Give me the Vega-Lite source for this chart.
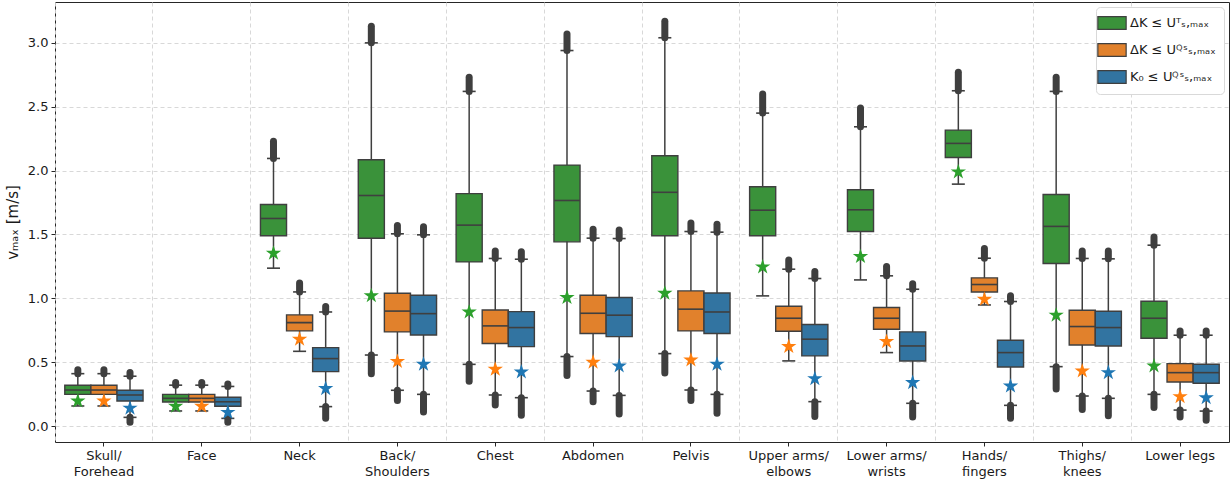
{
  "$schema": "https://vega.github.io/schema/vega-lite/v6.json",
  "width": 1174,
  "height": 440,
  "autosize": {"type": "none"},
  "padding": {"left": 55, "top": 2, "right": 1, "bottom": 38},
  "background": "white",
  "config": {
    "font": "DejaVu Sans",
    "view": {"stroke": "#262626", "strokeWidth": 1},
    "axis": {"labelFont": "DejaVu Sans", "titleFont": "DejaVu Sans", "labelColor": "#1a1a1a", "titleColor": "#1a1a1a", "tickColor": "#262626", "domain": false}
  },
  "data": {"values": [
    {"part": "Skull/Forehead", "s": "T", "lo": 0.157, "q1": 0.248, "med": 0.282, "q3": 0.319, "hi": 0.41, "omax": 0.44, "omin": null, "star": 0.196},
    {"part": "Skull/Forehead", "s": "QS", "lo": 0.157, "q1": 0.248, "med": 0.282, "q3": 0.319, "hi": 0.41, "omax": 0.44, "omin": null, "star": 0.196},
    {"part": "Skull/Forehead", "s": "K0", "lo": 0.068, "q1": 0.196, "med": 0.243, "q3": 0.28, "hi": 0.39, "omax": 0.42, "omin": 0.03, "star": 0.14},
    {"part": "Face", "s": "T", "lo": 0.118, "q1": 0.188, "med": 0.217, "q3": 0.248, "hi": 0.32, "omax": 0.34, "omin": null, "star": 0.155},
    {"part": "Face", "s": "QS", "lo": 0.118, "q1": 0.188, "med": 0.217, "q3": 0.248, "hi": 0.32, "omax": 0.34, "omin": null, "star": 0.155},
    {"part": "Face", "s": "K0", "lo": 0.06, "q1": 0.155, "med": 0.19, "q3": 0.225, "hi": 0.31, "omax": 0.33, "omin": 0.03, "star": 0.107},
    {"part": "Neck", "s": "T", "lo": 1.236, "q1": 1.49, "med": 1.625, "q3": 1.735, "hi": 2.095, "omax": 2.23, "omin": null, "star": 1.353},
    {"part": "Neck", "s": "QS", "lo": 0.585, "q1": 0.745, "med": 0.81, "q3": 0.87, "hi": 1.05, "omax": 1.12, "omin": null, "star": 0.68},
    {"part": "Neck", "s": "K0", "lo": 0.152, "q1": 0.426, "med": 0.528, "q3": 0.614, "hi": 0.893, "omax": 0.935, "omin": 0.06, "star": 0.293},
    {"part": "Back/Shoulders", "s": "T", "lo": 0.556, "q1": 1.47, "med": 1.805, "q3": 2.085, "hi": 3.0, "omax": 3.13, "omin": 0.41, "star": 1.02},
    {"part": "Back/Shoulders", "s": "QS", "lo": 0.28, "q1": 0.737, "med": 0.9, "q3": 1.04, "hi": 1.505, "omax": 1.57, "omin": 0.2, "star": 0.505},
    {"part": "Back/Shoulders", "s": "K0", "lo": 0.248, "q1": 0.713, "med": 0.88, "q3": 1.024, "hi": 1.497, "omax": 1.56, "omin": 0.11, "star": 0.483},
    {"part": "Chest", "s": "T", "lo": 0.483, "q1": 1.285, "med": 1.573, "q3": 1.82, "hi": 2.62, "omax": 2.73, "omin": 0.35, "star": 0.893},
    {"part": "Chest", "s": "QS", "lo": 0.243, "q1": 0.646, "med": 0.784, "q3": 0.909, "hi": 1.312, "omax": 1.37, "omin": 0.165, "star": 0.444},
    {"part": "Chest", "s": "K0", "lo": 0.222, "q1": 0.622, "med": 0.771, "q3": 0.896, "hi": 1.306, "omax": 1.365, "omin": 0.085, "star": 0.423},
    {"part": "Abdomen", "s": "T", "lo": 0.544, "q1": 1.442, "med": 1.766, "q3": 2.043, "hi": 2.94, "omax": 3.07, "omin": 0.395, "star": 1.006},
    {"part": "Abdomen", "s": "QS", "lo": 0.274, "q1": 0.724, "med": 0.883, "q3": 1.024, "hi": 1.471, "omax": 1.54, "omin": 0.19, "star": 0.5},
    {"part": "Abdomen", "s": "K0", "lo": 0.24, "q1": 0.7, "med": 0.868, "q3": 1.006, "hi": 1.468, "omax": 1.535, "omin": 0.095, "star": 0.47},
    {"part": "Pelvis", "s": "T", "lo": 0.567, "q1": 1.49, "med": 1.83, "q3": 2.116, "hi": 3.04, "omax": 3.17, "omin": 0.415, "star": 1.04},
    {"part": "Pelvis", "s": "QS", "lo": 0.282, "q1": 0.745, "med": 0.915, "q3": 1.058, "hi": 1.523, "omax": 1.59, "omin": 0.2, "star": 0.517},
    {"part": "Pelvis", "s": "K0", "lo": 0.248, "q1": 0.724, "med": 0.893, "q3": 1.042, "hi": 1.518, "omax": 1.58, "omin": 0.1, "star": 0.483},
    {"part": "Upper arms/elbows", "s": "T", "lo": 1.019, "q1": 1.49, "med": 1.69, "q3": 1.873, "hi": 2.45, "omax": 2.6, "omin": null, "star": 1.246},
    {"part": "Upper arms/elbows", "s": "QS", "lo": 0.51, "q1": 0.742, "med": 0.844, "q3": 0.938, "hi": 1.228, "omax": 1.3, "omin": null, "star": 0.622},
    {"part": "Upper arms/elbows", "s": "K0", "lo": 0.191, "q1": 0.549, "med": 0.68, "q3": 0.795, "hi": 1.155, "omax": 1.21, "omin": 0.075, "star": 0.371},
    {"part": "Lower arms/wrists", "s": "T", "lo": 1.144, "q1": 1.523, "med": 1.693, "q3": 1.85, "hi": 2.343, "omax": 2.49, "omin": null, "star": 1.327},
    {"part": "Lower arms/wrists", "s": "QS", "lo": 0.575, "q1": 0.758, "med": 0.844, "q3": 0.928, "hi": 1.176, "omax": 1.25, "omin": null, "star": 0.661},
    {"part": "Lower arms/wrists", "s": "K0", "lo": 0.178, "q1": 0.509, "med": 0.627, "q3": 0.737, "hi": 1.071, "omax": 1.115, "omin": 0.07, "star": 0.34},
    {"part": "Hands/fingers", "s": "T", "lo": 1.894, "q1": 2.103, "med": 2.213, "q3": 2.317, "hi": 2.625, "omax": 2.77, "omin": null, "star": 1.99},
    {"part": "Hands/fingers", "s": "QS", "lo": 0.948, "q1": 1.05, "med": 1.108, "q3": 1.16, "hi": 1.314, "omax": 1.39, "omin": null, "star": 0.993},
    {"part": "Hands/fingers", "s": "K0", "lo": 0.162, "q1": 0.462, "med": 0.575, "q3": 0.672, "hi": 0.975, "omax": 1.02, "omin": 0.06, "star": 0.313},
    {"part": "Thighs/knees", "s": "T", "lo": 0.465, "q1": 1.272, "med": 1.563, "q3": 1.813, "hi": 2.62, "omax": 2.73, "omin": 0.29, "star": 0.868},
    {"part": "Thighs/knees", "s": "QS", "lo": 0.235, "q1": 0.635, "med": 0.779, "q3": 0.907, "hi": 1.312, "omax": 1.37, "omin": 0.13, "star": 0.431},
    {"part": "Thighs/knees", "s": "K0", "lo": 0.217, "q1": 0.627, "med": 0.771, "q3": 0.899, "hi": 1.309, "omax": 1.37, "omin": 0.08, "star": 0.418},
    {"part": "Lower legs", "s": "T", "lo": 0.248, "q1": 0.687, "med": 0.844, "q3": 0.977, "hi": 1.416, "omax": 1.48, "omin": 0.145, "star": 0.47},
    {"part": "Lower legs", "s": "QS", "lo": 0.125, "q1": 0.345, "med": 0.418, "q3": 0.489, "hi": 0.711, "omax": 0.745, "omin": 0.07, "star": 0.23},
    {"part": "Lower legs", "s": "K0", "lo": 0.117, "q1": 0.335, "med": 0.418, "q3": 0.484, "hi": 0.711, "omax": 0.745, "omin": 0.045, "star": 0.222}
  ]},
  "encoding": {
    "xOffset": {"field": "s", "type": "nominal", "sort": ["T", "QS", "K0"],
      "scale": {"domain": ["T", "QS", "K0"], "paddingInner": 0, "paddingOuter": 0.375}}
  },
  "layer": [
    {
      "mark": {"type": "rule", "color": "#3f3f3f", "strokeWidth": 1.5},
      "encoding": {
        "x": {"field": "part", "type": "nominal", "sort": null,
          "scale": {"paddingInner": 0, "paddingOuter": 0},
          "axis": {"orient": "bottom", "title": null, "labels": false, "ticks": false, "domain": false, "bandPosition": 0, "grid": true, "gridDash": [4, 3], "gridColor": "#d4d4d4", "gridWidth": 0.9}},
        "y": {"field": "lo", "type": "quantitative",
          "scale": {"domain": [-0.125, 3.32], "nice": false, "zero": false},
          "axis": {"title": "vₘₐₓ [m/s]", "titleFontSize": 15, "titleFontWeight": "normal", "titlePadding": 7, "labelFontSize": 13, "tickSize": 4, "labelPadding": 3,
            "values": [0, 0.5, 1, 1.5, 2, 2.5, 3], "format": ".1f",
            "grid": true, "gridDash": [4, 3], "gridColor": "#d4d4d4", "gridWidth": 0.9}},
        "y2": {"field": "hi"}
      }
    },
    {
      "mark": {"type": "rule", "color": "#3f3f3f", "strokeWidth": 7, "strokeCap": "round"},
      "encoding": {
        "x": {"field": "part", "type": "nominal", "sort": null,
          "axis": {"orient": "bottom", "title": null, "labelAngle": 0, "labelFontSize": 13, "labelLineHeight": 16, "tickSize": 4, "labelPadding": 3, "labelBaseline": "top", "grid": false,
            "labelExpr": "indexof(datum.label,'/') > 0 ? [slice(datum.label,0,indexof(datum.label,'/')+1), slice(datum.label,indexof(datum.label,'/')+1)] : datum.label"}},
        "y": {"field": "hi", "type": "quantitative"},
        "y2": {"field": "omax"}
      }
    },
    {
      "transform": [{"filter": "isValid(datum.omin)"}],
      "mark": {"type": "rule", "color": "#3f3f3f", "strokeWidth": 7, "strokeCap": "round"},
      "encoding": {
        "x": {"field": "part", "type": "nominal", "sort": null, "axis": null},
        "y": {"field": "omin", "type": "quantitative"},
        "y2": {"field": "lo"}
      }
    },
    {
      "mark": {"type": "bar", "stroke": "#3f3f3f", "strokeWidth": 1.4},
      "encoding": {
        "x": {"field": "part", "type": "nominal", "sort": null, "axis": null},
        "y": {"field": "q1", "type": "quantitative"},
        "y2": {"field": "q3"},
        "color": {"field": "s", "type": "nominal",
          "scale": {"domain": ["T", "QS", "K0"], "range": ["#3a923a", "#e1812c", "#3274a1"]},
          "legend": {"title": null, "orient": "top-right", "offset": 5,
            "labelExpr": "datum.label == 'T' ? 'ΔK ≤ Uᵀₛ,ₘₐₓ' : (datum.label == 'QS' ? 'ΔK ≤ Uꟴˢₛ,ₘₐₓ' : 'K₀ ≤ Uꟴˢₛ,ₘₐₓ')",
            "labelFont": "DejaVu Sans", "labelFontSize": 13, "labelColor": "#1a1a1a", "labelOffset": 10,
            "symbolType": "M-2,-0.9H2V0.9H-2Z", "symbolSize": 200, "symbolStrokeColor": "#3f3f3f", "symbolStrokeWidth": 1.2, "symbolOpacity": 1,
            "rowPadding": 9, "padding": 8, "fillColor": "white", "strokeColor": "#d9d9d9", "cornerRadius": 4}}
      }
    },
    {
      "mark": {"type": "tick", "color": "#3f3f3f", "thickness": 1.6, "size": 26, "opacity": 1},
      "encoding": {"x": {"field": "part", "type": "nominal", "sort": null, "axis": null}, "y": {"field": "med", "type": "quantitative"}}
    },
    {
      "mark": {"type": "tick", "color": "#3f3f3f", "thickness": 1.6, "size": 13, "opacity": 1},
      "encoding": {"x": {"field": "part", "type": "nominal", "sort": null, "axis": null}, "y": {"field": "hi", "type": "quantitative"}}
    },
    {
      "mark": {"type": "tick", "color": "#3f3f3f", "thickness": 1.6, "size": 13, "opacity": 1},
      "encoding": {"x": {"field": "part", "type": "nominal", "sort": null, "axis": null}, "y": {"field": "lo", "type": "quantitative"}}
    },
    {
      "mark": {"type": "point", "shape": "M0,-1L0.2245,-0.309L0.951,-0.309L0.363,0.118L0.588,0.809L0,0.382L-0.588,0.809L-0.363,0.118L-0.951,-0.309L-0.2245,-0.309Z", "size": 260, "filled": true, "opacity": 1, "strokeWidth": 0},
      "encoding": {
        "x": {"field": "part", "type": "nominal", "sort": null, "axis": null},
        "y": {"field": "star", "type": "quantitative"},
        "fill": {"field": "s", "type": "nominal",
          "scale": {"domain": ["T", "QS", "K0"], "range": ["#2ca02c", "#ff7f0e", "#1f77b4"]},
          "legend": null}
      }
    }
  ],
  "resolve": {"axis": {"x": "independent"}}
}
